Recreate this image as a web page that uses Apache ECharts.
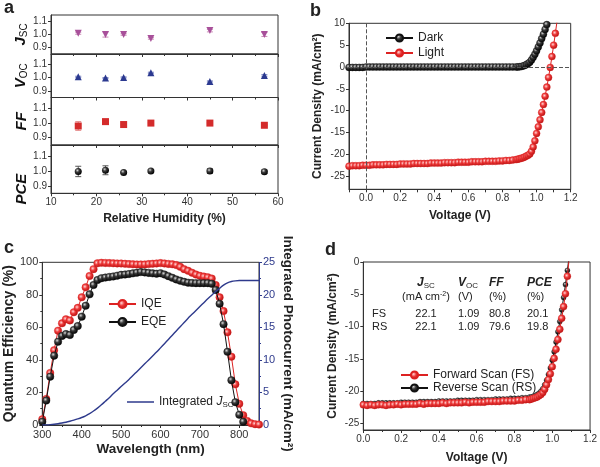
<!DOCTYPE html>
<html>
<head>
<meta charset="utf-8">
<script src="https://cdn.jsdelivr.net/npm/echarts@6.0.0/dist/echarts.min.js"></script>
<style>
  html, body { margin: 0; padding: 0; background: #fff; }
  #chart { width: 600px; height: 467px; }
</style>
</head>
<body>
<div id="chart"></div>
<script>
// ---- panel a: normalized parameters vs relative humidity
const humidity = [16, 22, 26, 32, 45, 57];
const jscNorm = [1.01, 1.0, 1.0, 0.97, 1.03, 1.0];
const jscErr = [0.008, 0.02, 0.006, 0.006, 0.01, 0.015];
const vocNorm = [1.005, 0.995, 1.0, 1.035, 0.97, 1.015];
const vocErr = [0.004, 0.004, 0.004, 0.004, 0.004, 0.006];
const ffNorm = [0.98, 1.01, 0.99, 1.0, 1.0, 0.985];
const ffErr = [0.03, 0.005, 0.004, 0.004, 0.004, 0.004];
const pceNorm = [0.997, 1.005, 0.99, 1.0, 1.0, 0.995];
const pceErr = [0.035, 0.03, 0.005, 0.01, 0.015, 0.012];
const aTicks = [0.9, 1.0, 1.1];

// ---- panel b: J-V in dark and light
const bVolt = [-0.10,-0.08,-0.06,-0.04,-0.02,0.00,0.02,0.04,0.06,0.08,0.10,0.12,0.14,0.16,0.18,0.20,0.22,0.24,0.26,0.28,
  0.30,0.32,0.34,0.36,0.38,0.40,0.42,0.44,0.46,0.48,0.50,0.52,0.54,0.56,0.58,0.60,0.62,0.64,0.66,0.68,
  0.70,0.72,0.74,0.76,0.78,0.80,0.82,0.84,0.86,0.88,0.89,0.90,0.91,0.92,0.93,0.94,0.95,0.96,0.97,0.98,
  0.99,1.00,1.01,1.02,1.03,1.04,1.05,1.06,1.07,1.08,1.09,1.10,1.11,1.12];
const lightJ = [-22.7,-22.6,-22.6,-22.6,-22.5,-22.5,-22.5,-22.4,-22.4,-22.4,-22.4,-22.3,-22.3,-22.3,-22.3,-22.2,-22.2,-22.2,-22.2,-22.1,
  -22.1,-22.1,-22.1,-22.1,-22.0,-22.0,-22.0,-22.0,-21.9,-21.9,-21.9,-21.9,-21.8,-21.8,-21.8,-21.8,-21.7,-21.7,-21.7,-21.7,
  -21.6,-21.6,-21.6,-21.6,-21.5,-21.5,-21.4,-21.4,-21.3,-21.2,-21.1,-21.0,-20.9,-20.8,-20.6,-20.4,-20.2,-19.9,-19.3,-18.3,
  -16.9,-15.2,-13.7,-12.1,-10.4,-8.6,-6.7,-4.6,-2.4,-0.1,2.4,5.0,7.7,10.5];
const darkJ = [-0.1,-0.1,-0.1,-0.1,-0.1,0,0,0,0,0,0,0,0,0,0,0,0,0,0,0,
  0,0,0,0,0,0,0,0,0,0,0,0,0,0,0,0,0,0,0,0,
  0,0,0,0,0,0,0,0,0,0.01,0.02,0.05,0.1,0.2,0.35,0.55,0.8,1.1,1.6,2.2,
  2.9,3.7,4.6,5.5,6.5,7.5,8.6,9.7,10.9];
const bYTicks = [-25, -20, -15, -10, -5, 0, 5, 10];

// ---- panel c: quantum efficiency and integrated current
const wavelength = [300,310,320,330,340,350,360,370,380,390,400,410,420,430,440,450,460,470,480,490,
  500,510,520,530,540,550,560,570,580,590,600,610,620,630,640,650,660,670,680,690,
  700,710,720,730,740,750,760,770,780,790,800,810,820,830,840,850];
const iqe = [3.5,16,32,46,58,62.5,65,64.3,69.3,72,78.5,84.6,91.6,95.8,99.4,99.7,99.6,99.5,99.4,99.3,
  99.3,99.1,98.9,98.8,98.7,98.7,98.7,98.9,99.1,99.3,99.5,99.3,99.0,98.8,98.3,97.2,95.8,94.8,93.6,92.5,
  91.7,91.2,90.8,90.0,86,78.5,70,57,42,25,13,6,2.5,1,0.5,0.3];
const eqe = [2,15,29.7,42.6,51.2,54.7,55.9,55.3,58.4,60.8,66.6,73.3,80.3,86,89.1,90.2,90.6,91,91.3,91.8,
  92.3,92.5,92.8,93.2,93.6,94,93.8,93.5,93.2,93,93.3,92.5,91.5,90.5,89.5,88.7,88,87.5,87.3,87.2,
  87.2,87.2,87.2,86.8,83,74.5,62,45,27.5,14,6.3,2];
const integJsc = [0,0.02,0.06,0.12,0.2,0.3,0.42,0.57,0.74,0.93,1.15,1.42,1.75,2.15,2.6,3.1,3.65,4.2,4.8,5.35,
  5.9,6.45,7.0,7.6,8.2,8.8,9.4,10.0,10.6,11.2,11.85,12.5,13.15,13.8,14.45,15.1,15.75,16.4,17.0,17.6,
  18.2,18.8,19.4,19.95,20.5,21.0,21.5,21.85,22.05,22.15,22.2,22.2,22.2,22.2,22.2,22.2];

// ---- panel d: forward / reverse scan
const dVolt = [0.00,0.02,0.04,0.06,0.08,0.10,0.12,0.14,0.16,0.18,0.20,0.22,0.24,0.26,0.28,0.30,0.32,0.34,0.36,0.38,
  0.40,0.42,0.44,0.46,0.48,0.50,0.52,0.54,0.56,0.58,0.60,0.62,0.64,0.66,0.68,0.70,0.72,0.74,0.76,0.78,
  0.80,0.82,0.84,0.86,0.88,0.89,0.90,0.91,0.92,0.93,0.94,0.95,0.96,0.97,0.98,0.99,1.00,1.01,1.02,1.03,
  1.04,1.05,1.06,1.07,1.08,1.09];
const fsJ = [-22.1,-22.2,-22.1,-22.2,-22.1,-22.1,-22.2,-22.1,-22.1,-22.0,-22.1,-22.0,-22.0,-22.0,-22.0,-21.9,-22.0,-21.9,-21.9,-21.9,
  -21.9,-21.8,-21.9,-21.8,-21.8,-21.8,-21.8,-21.7,-21.8,-21.7,-21.7,-21.7,-21.7,-21.6,-21.6,-21.6,-21.6,-21.5,-21.5,-21.5,
  -21.5,-21.4,-21.4,-21.3,-21.3,-21.2,-21.1,-21.0,-20.9,-20.7,-20.5,-20.2,-19.7,-19.0,-18.2,-17.3,-16.2,-14.9,-13.5,-12.0,
  -10.4,-8.7,-6.9,-4.9,-2.2,0.6];
const rsJ = [-21.9,-21.9,-21.9,-21.9,-21.8,-21.8,-21.8,-21.8,-21.8,-21.8,-21.7,-21.7,-21.7,-21.7,-21.7,-21.6,-21.6,-21.6,-21.6,-21.6,
  -21.5,-21.5,-21.5,-21.5,-21.5,-21.4,-21.4,-21.4,-21.4,-21.4,-21.3,-21.3,-21.3,-21.3,-21.3,-21.2,-21.2,-21.2,-21.2,-21.1,
  -21.1,-21.1,-21.0,-21.0,-20.9,-20.9,-20.8,-20.7,-20.5,-20.3,-20.0,-19.6,-19.0,-18.3,-17.4,-16.4,-15.2,-13.9,-12.4,-10.8,
  -9.2,-7.4,-5.5,-3.5,-1.3,1.0];
const dYTicks = [-25, -20, -15, -10, -5, 0];
const scanHead = ['{j|J}{s|SC}', '{j|V}{s|OC}', '{j|FF}', '{j|PCE}'];
const scanUnit = ['(mA cm{p|-2})', '(V)', '(%)', '(%)'];
const scanRows = [['FS', '22.1', '1.09', '80.8', '20.1'], ['RS', '22.1', '1.09', '79.6', '19.8']];

const FONT = 'Arial, "Liberation Sans", Helvetica, sans-serif';
const INK = '#222';
const NAVY = '#2e3a8c';

const zip = (xs, ys) => ys.map((y, i) => [xs[i], y]);

const redBall = { type: 'radial', x: 0.4, y: 0.4, r: 0.6,
  colorStops: [{ offset: 0, color: '#ffd6d6' }, { offset: 0.45, color: '#ee3b3b' }, { offset: 1, color: '#b51010' }] };
const blackBall = { type: 'radial', x: 0.38, y: 0.35, r: 0.65,
  colorStops: [{ offset: 0, color: '#d8d8d8' }, { offset: 0.4, color: '#3a3a3a' }, { offset: 1, color: '#000' }] };

const tickLabel = { color: '#333', fontSize: 10, fontFamily: FONT, margin: 4 };
const titleStyle = { color: INK, fontSize: 12, fontWeight: 'bold', fontFamily: FONT };

function baseAxis(extra) {
  return Object.assign({
    type: 'value',
    axisLine: { show: true, onZero: false, lineStyle: { color: '#333', width: 1 } },
    axisTick: { show: true, length: 3, lineStyle: { color: '#333' } },
    splitLine: { show: false },
    axisLabel: Object.assign({}, tickLabel)
  }, extra);
}

// panel a subplot layout
const aGrids = [
  { left: 51, top: 15, width: 227, height: 39 },
  { left: 51, top: 54, width: 227, height: 43.5 },
  { left: 51, top: 97.5, width: 227, height: 47.5 },
  { left: 51, top: 145, width: 227, height: 48.3 }
];
const aMax = [1.15, 1.175, 1.175, 1.175];
const aNames = ['{i|J}{s|SC}', '{i|V}{s|OC}', '{i|FF}', '{i|PCE}'];
const aNamePad = [[0, 0, 0, 0], [0, 0, 0, 0], [0, 0, 0, 0], [0, 40, 0, 0]];

const grids = aGrids.map(g => Object.assign({ show: true, borderColor: '#333', borderWidth: 1 }, g));
grids.push({ show: true, borderColor: '#333', borderWidth: 1, left: 349, top: 23.3, width: 221.7, height: 166 });
grids.push({ show: true, borderColor: '#333', borderWidth: 1, left: 42.3, top: 262.3, width: 216.7, height: 162.7 });
grids.push({ show: true, borderColor: '#333', borderWidth: 1, left: 363.3, top: 262, width: 229.4, height: 168 });

const xAxes = [0, 1, 2, 3].map(i => baseAxis({
  gridIndex: i, min: 10, max: 60, interval: 10,
  minorTick: { show: true, splitNumber: 2, length: 2, lineStyle: { color: '#333' } },
  axisLabel: Object.assign({}, tickLabel, { show: i === 3 }),
  name: i === 3 ? 'Relative Humidity (%)' : '', nameLocation: 'middle', nameGap: 19,
  nameTextStyle: titleStyle
}));
xAxes.push(baseAxis({
  gridIndex: 4, min: -0.1, max: 1.2, interval: 0.1,
  axisTick: { show: true, length: 3, lineStyle: { color: '#333' } },
  axisLabel: Object.assign({}, tickLabel, {
    formatter: v => (v > -0.05 && Math.round(v * 10) % 2 === 0) ? v.toFixed(1) : ''
  }),
  name: 'Voltage (V)', nameLocation: 'middle', nameGap: 20, nameTextStyle: titleStyle
}));
xAxes.push(baseAxis({
  gridIndex: 5, min: 300, max: 850, interval: 100,
  minorTick: { show: true, splitNumber: 2, length: 2, lineStyle: { color: '#333' } },
  axisLabel: Object.assign({}, tickLabel, { fontSize: 11, showMaxLabel: false }),
  name: 'Wavelength (nm)', nameLocation: 'middle', nameGap: 17,
  nameTextStyle: Object.assign({}, titleStyle, { fontSize: 13.5 })
}));
xAxes.push(baseAxis({
  gridIndex: 6, min: 0, max: 1.2, interval: 0.2,
  minorTick: { show: true, splitNumber: 2, length: 2, lineStyle: { color: '#333' } },
  axisLabel: Object.assign({}, tickLabel, { formatter: v => v.toFixed(1) }),
  name: 'Voltage (V)', nameLocation: 'middle', nameGap: 22, nameTextStyle: titleStyle
}));

const yAxes = [0, 1, 2, 3].map(i => baseAxis({
  gridIndex: i, min: 0.85, max: aMax[i],
  axisLabel: Object.assign({}, tickLabel, { customValues: aTicks, formatter: v => v.toFixed(1) }),
  axisTick: { show: true, length: 3, customValues: aTicks, lineStyle: { color: '#333' } },
  name: aNames[i], nameLocation: 'middle', nameGap: 22,
  nameTextStyle: {
    padding: aNamePad[i],
    rich: {
      i: { fontSize: 15, fontWeight: 'bold', fontStyle: 'italic', fontFamily: FONT, color: '#111' },
      s: { fontSize: 10, fontFamily: FONT, color: '#111', verticalAlign: 'bottom', padding: [6, 0, 0, 0] }
    }
  }
}));
yAxes.push(baseAxis({
  gridIndex: 4, min: -28, max: 10,
  axisLabel: Object.assign({}, tickLabel, { customValues: bYTicks }),
  axisTick: { show: true, length: 3, customValues: bYTicks, lineStyle: { color: '#333' } },
  name: 'Current Density (mA/cm\u00b2)', nameLocation: 'middle', nameGap: 25, nameTextStyle: titleStyle
}));
yAxes.push(baseAxis({
  gridIndex: 5, min: 0, max: 100, interval: 20,
  minorTick: { show: true, splitNumber: 2, length: 2, lineStyle: { color: '#333' } },
  axisLabel: Object.assign({}, tickLabel, { fontSize: 11 }),
  name: 'Quantum Efficiency (%)', nameLocation: 'middle', nameGap: 24,
  nameTextStyle: Object.assign({}, titleStyle, { fontSize: 14 })
}));
yAxes.push(baseAxis({
  gridIndex: 5, position: 'right', min: 0, max: 25, interval: 5,
  axisLine: { show: true, onZero: false, lineStyle: { color: NAVY, width: 1 } },
  axisTick: { show: true, length: 3, lineStyle: { color: NAVY } },
  minorTick: { show: true, splitNumber: 2, length: 2, lineStyle: { color: NAVY } },
  axisLabel: Object.assign({}, tickLabel, { fontSize: 11, color: NAVY }),
  name: 'Integrated Photocurrent (mA/cm\u00b2)', nameLocation: 'middle', nameGap: 22, nameRotate: -90,
  nameTextStyle: Object.assign({}, titleStyle, { fontSize: 13.5 })
}));
yAxes.push(baseAxis({
  gridIndex: 6, min: -26, max: 0,
  axisLabel: Object.assign({}, tickLabel, { customValues: dYTicks }),
  axisTick: { show: true, length: 3, customValues: dYTicks, lineStyle: { color: '#333' } },
  name: 'Current Density (mA/cm\u00b2)', nameLocation: 'middle', nameGap: 25, nameTextStyle: titleStyle
}));

function errorBars(idx, vals, errs, color) {
  return {
    type: 'custom', xAxisIndex: idx, yAxisIndex: idx, z: 2, silent: true,
    encode: { x: 0, y: [1, 2] },
    data: humidity.map((h, i) => [h, vals[i] - errs[i], vals[i] + errs[i]]),
    renderItem: (params, api) => {
      const lo = api.coord([api.value(0), api.value(1)]);
      const hi = api.coord([api.value(0), api.value(2)]);
      const st = { stroke: color, lineWidth: 1 };
      return {
        type: 'group', children: [
          { type: 'line', shape: { x1: lo[0], y1: lo[1], x2: hi[0], y2: hi[1] }, style: st },
          { type: 'line', shape: { x1: lo[0] - 3, y1: lo[1], x2: lo[0] + 3, y2: lo[1] }, style: st },
          { type: 'line', shape: { x1: hi[0] - 3, y1: hi[1], x2: hi[0] + 3, y2: hi[1] }, style: st }
        ]
      };
    }
  };
}

function points(idx, vals, symbol, color, rotate) {
  return {
    type: 'scatter', xAxisIndex: idx, yAxisIndex: idx, z: 3,
    symbol: symbol, symbolSize: 7, symbolRotate: rotate || 0,
    itemStyle: { color: color, opacity: 1 },
    data: zip(humidity, vals)
  };
}

const jvLine = (name, xIdx, yIdx, data, ball, lineColor, size, z) => ({
  name: name, type: 'line', xAxisIndex: xIdx, yAxisIndex: yIdx, z: z,
  data: data, symbol: 'circle', symbolSize: size, showSymbol: true, clip: true,
  lineStyle: { color: lineColor, width: 1 },
  itemStyle: { color: ball, borderColor: lineColor, borderWidth: 0.4 }
});

const series = [
  errorBars(0, jscNorm, jscErr, '#c98ab6'),
  errorBars(1, vocNorm, vocErr, '#7a84c0'),
  errorBars(2, ffNorm, ffErr, '#e58a8a'),
  errorBars(3, pceNorm, pceErr, '#555'),
  points(0, jscNorm, 'triangle', '#a8509a', 180),
  points(1, vocNorm, 'triangle', '#2b3990'),
  points(2, ffNorm, 'rect', '#d42b2b'),
  points(3, pceNorm, 'circle', blackBall),
  {
    type: 'line', xAxisIndex: 4, yAxisIndex: 4, data: [], z: 1, silent: true,
    markLine: {
      silent: true, symbol: 'none', label: { show: false },
      lineStyle: { type: 'dashed', color: '#555', width: 1 },
      data: [{ xAxis: 0 }, { yAxis: 0 }]
    }
  },
  jvLine('Dark', 4, 4, zip(bVolt, darkJ), blackBall, '#111', 7, 3),
  jvLine('Light', 4, 4, zip(bVolt, lightJ), redBall, '#d22', 7, 3),
  jvLine('IQE', 5, 5, zip(wavelength, iqe), redBall, '#d22', 7.5, 3),
  jvLine('EQE', 5, 5, zip(wavelength, eqe), blackBall, '#111', 7.5, 4),
  {
    name: 'Integrated Jsc', type: 'line', xAxisIndex: 5, yAxisIndex: 6, z: 5,
    data: zip(wavelength, integJsc), showSymbol: false, symbol: 'none', smooth: 0.3,
    lineStyle: { color: NAVY, width: 1.4 }, itemStyle: { color: NAVY }
  },
  jvLine('Reverse Scan (RS)', 6, 7, zip(dVolt, rsJ), blackBall, '#111', 5, 3),
  jvLine('Forward Scan (FS)', 6, 7, zip(dVolt, fsJ), redBall, '#d22', 7, 4)
];

const legendText = { fontSize: 12, fontFamily: FONT, color: INK };
const legends = [
  { data: ['Dark', 'Light'], left: 380, top: 27, orient: 'vertical', itemWidth: 27, itemHeight: 9, itemGap: 3, textStyle: legendText },
  { data: ['IQE', 'EQE'], left: 103, top: 293, orient: 'vertical', itemWidth: 27, itemHeight: 10, itemGap: 6, textStyle: legendText },
  {
    data: [{ name: 'Integrated Jsc', icon: 'rect' }], left: 122, top: 391, itemWidth: 27, itemHeight: 1.5,
    formatter: () => '{n|Integrated }{j|J}{s|SC}',
    textStyle: {
      rich: {
        n: { fontSize: 12, fontFamily: FONT, color: INK },
        j: { fontSize: 12, fontFamily: FONT, color: INK, fontStyle: 'italic' },
        s: { fontSize: 8, fontFamily: FONT, color: INK, verticalAlign: 'bottom', padding: [5, 0, 0, 0] }
      }
    }
  },
  { data: ['Forward Scan (FS)', 'Reverse Scan (RS)'], left: 395, top: 364, orient: 'vertical', itemWidth: 27, itemHeight: 9, itemGap: 1, textStyle: legendText }
];

// table in panel d and the panel letters
const colX = [426, 458, 489, 527];
const colAlign = ['center', 'left', 'left', 'left'];
const tableRich = {
  j: { fontSize: 12, fontWeight: 'bold', fontStyle: 'italic', fontFamily: FONT, fill: INK, color: INK },
  s: { fontSize: 8, fontFamily: FONT, fill: INK, color: INK, verticalAlign: 'bottom', padding: [5, 0, 0, 0] },
  p: { fontSize: 7, fontFamily: FONT, fill: INK, color: INK, verticalAlign: 'top', padding: [0, 0, 5, 0] }
};
const txt = (text, x, y, align, font, rich) => ({
  type: 'text', x: x, y: y, silent: true,
  style: { text: text, fill: INK, font: font, textAlign: align, textVerticalAlign: 'middle', rich: rich }
});
const graphics = [];
scanHead.forEach((h, i) => graphics.push(txt(h, colX[i], 283, colAlign[i], '12px ' + FONT, tableRich)));
scanUnit.forEach((u, i) => graphics.push(txt(u, colX[i], 297, colAlign[i], '11px ' + FONT, tableRich)));
scanRows.forEach((row, r) => {
  const y = 314 + r * 13;
  graphics.push(txt(row[0], 372, y, 'left', '11px ' + FONT));
  row.slice(1).forEach((v, i) => graphics.push(txt(v, colX[i], y, colAlign[i], '11px ' + FONT)));
});
[['a', 4, 8], ['b', 310, 11], ['c', 4, 248], ['d', 325, 250]].forEach(p =>
  graphics.push(txt(p[0], p[1], p[2], 'left', 'bold 18px ' + FONT)));

const chart = echarts.init(document.getElementById('chart'), null, { renderer: 'canvas' });
chart.setOption({
  backgroundColor: '#fff',
  animation: false,
  grid: grids,
  xAxis: xAxes,
  yAxis: yAxes,
  legend: legends,
  series: series,
  graphic: graphics
});
</script>
</body>
</html>
